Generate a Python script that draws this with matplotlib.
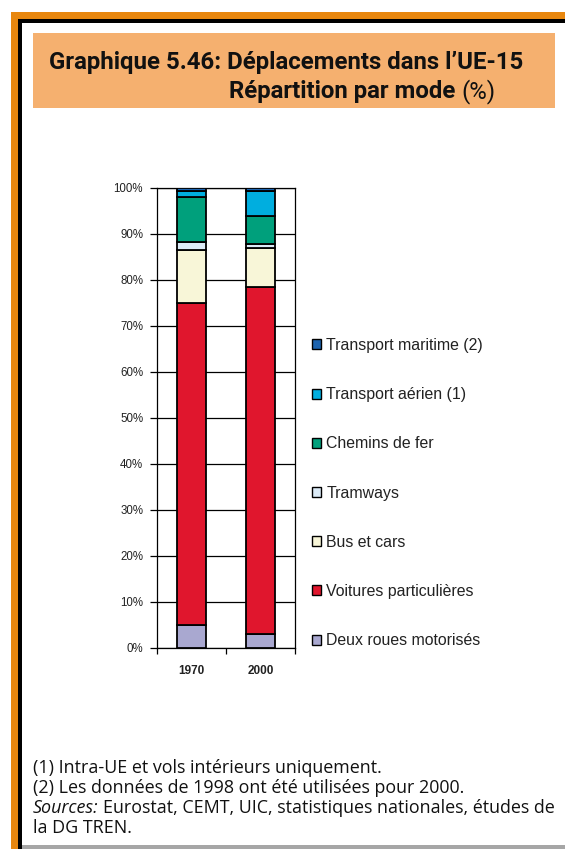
import matplotlib
matplotlib.use("Agg")
import matplotlib.pyplot as plt
from matplotlib.patches import Rectangle, Patch
import numpy as np

# ---- data -----------------------------------------------------------------
years = ["1970", "2000"]
modes = ["Deux roues motorisés", "Voitures particulières", "Bus et cars",
         "Tramways", "Chemins de fer", "Transport aérien (1)",
         "Transport maritime (2)"]
deux_roues = [5.0, 3.0]
voitures = [70.0, 75.5]
bus_cars = [11.5, 8.4]
tramways = [1.8, 0.9]
chemins_fer = [9.7, 6.1]
aerien = [1.4, 5.5]
maritime = [0.6, 0.6]
y_ticks = [0, 10, 20, 30, 40, 50, 60, 70, 80, 90, 100]
y_tick_labels = ["0%", "10%", "20%", "30%", "40%", "50%", "60%", "70%",
                 "80%", "90%", "100%"]

series = [deux_roues, voitures, bus_cars, tramways, chemins_fer, aerien, maritime]
colors = ["#A9A8D0", "#E0162D", "#F8F6D8", "#DCEBF7", "#00A07C", "#00AEDF",
          "#1C63AE"]

W, H = 565, 849
fig = plt.figure(figsize=(W / 100, H / 100), dpi=100)


def px_rect(x0, y0, x1, y1, color, z=0):
    """Rectangle given in pixel coordinates from the top-left corner."""
    fig.patches.append(Rectangle((x0 / W, 1 - y1 / H), (x1 - x0) / W,
                                 (y1 - y0) / H, transform=fig.transFigure,
                                 facecolor=color, edgecolor="none", zorder=z))


# page frame
orange = "#E8870F"
px_rect(11, 12, W, 19, orange)
px_rect(11, 12, 18, H, orange)
px_rect(18, 19, W, 23, "black")
px_rect(18, 19, 22, H, "black")
px_rect(22, 845, W, H, "#A6A6A6")

# title box
px_rect(33, 33, 555, 108, "#F5B06F")
title_font = dict(family="Roboto", size=17.3, color="#111111")
fig.text(49 / W, 1 - 69.5 / H, "Graphique 5.46: Déplacements dans l’UE-15",
         fontweight="bold", va="baseline", ha="left", **title_font)
t2 = fig.text(229 / W, 1 - 98 / H, "Répartition par mode ", fontweight="bold",
              va="baseline", ha="left", **title_font)
fig.canvas.draw()
bb = t2.get_window_extent()
fig.text(bb.x1 / W, 1 - 98 / H, "(%)", va="baseline", ha="left", **title_font)

# chart
ax = fig.add_axes([157 / W, 1 - 648 / H, (295 - 157) / W, (648 - 188) / H])
x = np.arange(len(years))
bottom = np.zeros(len(years))
handles = []
for vals, col, name in zip(series, colors, modes):
    ax.bar(x, vals, width=0.41, bottom=bottom, color=col, edgecolor="black",
           linewidth=1.3, zorder=3)
    bottom += np.array(vals)
    handles.append(Patch(facecolor=col, edgecolor="black", linewidth=1.0,
                         label=name))

ax.set_xlim(-0.5, 1.5)
ax.set_ylim(0, 100)
ax.set_yticks(y_ticks)
ax.set_yticklabels(y_tick_labels, family="Liberation Sans", fontsize=8.3,
                   color="#222222")
ax.yaxis.grid(True, color="black", linewidth=0.9, zorder=0)
ax.set_xticks(x)
ax.set_xticklabels(years, family="Liberation Sans", fontsize=8.5,
                   fontweight="bold", color="#222222")
ax.set_xticks([-0.5, 0.5, 1.5], minor=True)
ax.tick_params(axis="x", which="major", length=0, pad=12)
ax.tick_params(axis="x", which="minor", length=4, width=0.9, direction="out")
ax.tick_params(axis="y", length=5, width=0.9, direction="out", pad=5)
for s in ax.spines.values():
    s.set_linewidth(0.9)
    s.set_color("black")

# legend, top entry first
fig.legend(handles=handles[::-1], loc="upper left",
           bbox_to_anchor=(312 / W, 1 - 338 / H), frameon=False,
           prop=dict(family="Liberation Sans", size=11.4),
           labelcolor="#222222",
           handlelength=0.58, handleheight=0.58, handletextpad=0.33,
           labelspacing=2.16, borderaxespad=0, borderpad=0)

# notes
note_font = dict(family="Open Sans", size=12.9, color="#111111")
fig.text(33 / W, 1 - 768 / H, "(1) Intra-UE et vols intérieurs uniquement.",
         va="center", **note_font)
fig.text(33 / W, 1 - 788 / H, "(2) Les données de 1998 ont été utilisées pour 2000.",
         va="center", **note_font)
s1 = fig.text(33 / W, 1 - 808 / H, "Sources:", style="italic", va="center",
              **note_font)
fig.canvas.draw()
bb = s1.get_window_extent()
fig.text(bb.x1 / W + 4 / W, 1 - 808 / H,
         "Eurostat, CEMT, UIC, statistiques nationales, études de",
         va="center", **note_font)
fig.text(33 / W, 1 - 828 / H, "la DG TREN.", va="center", **note_font)

fig.savefig("out.png", dpi=100)
